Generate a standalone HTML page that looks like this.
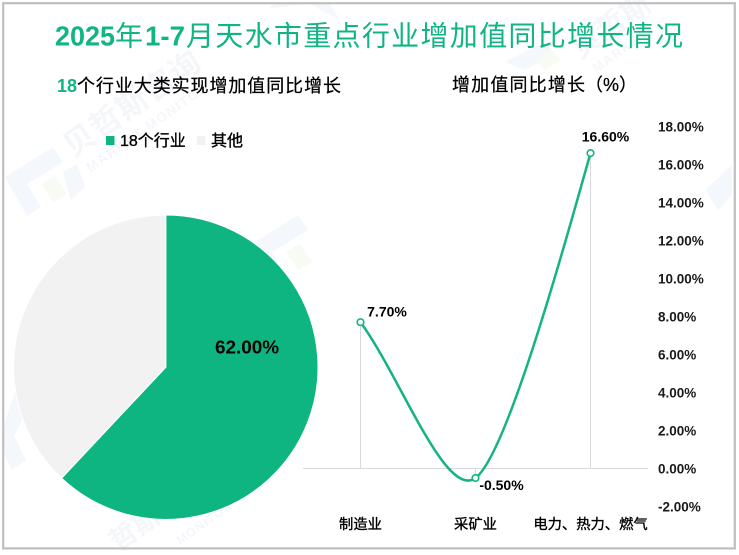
<!DOCTYPE html>
<html lang="zh-CN">
<head>
<meta charset="utf-8">
<title>2025年1-7月天水市重点行业增加值同比增长情况</title>
<style>
html,body{margin:0;padding:0;background:#fff;width:739px;height:555px;overflow:hidden}
svg{display:block;font-family:"Liberation Sans","Noto Sans CJK SC",sans-serif}
</style>
</head>
<body>
<svg id="chart" width="739" height="555" viewBox="0 0 739 555" xmlns="http://www.w3.org/2000/svg">
  <rect x="0" y="0" width="739" height="555" fill="#fff"/>
  <g id="watermarks">
    <g transform="translate(5,142)">
      <polygon points="0,35 48,5 58,20 22,42 36,65 22,74" fill="#f4f7fb"/>
      <polygon points="36,42 50,34 62,52 48,60" fill="#f8fbf3"/>
      <polygon points="58,30 72,22 80,45 66,58" fill="#f4f7fb"/>
    </g>
    <g transform="translate(73,158) rotate(-35)">
      <text x="0" y="0" font-size="31" font-weight="700" fill="#f4f6fa" letter-spacing="1">贝哲斯咨询</text>
      <text x="6" y="22" font-size="13.5" font-weight="700" fill="#f4f6fa" letter-spacing="1.5">MARKET MONITOR</text>
    </g>
    <g transform="translate(250,210)">
      <polygon points="0,35 48,5 58,20 22,42 36,65 22,74" fill="#f4f7fb"/>
      <polygon points="36,42 50,34 62,52 48,60" fill="#f8fbf3"/>
    </g>
    <g transform="translate(505,42)">
      <polygon points="0,20 40,0 50,12 20,28" fill="#f4f7fb"/>
      <polygon points="30,18 46,8 56,18 40,28" fill="#f8fbf3"/>
    </g>
    <g transform="translate(580,60) rotate(-35)">
      <text x="0" y="0" font-size="30" font-weight="700" fill="#f4f6fa">贝哲斯</text>
      <text x="6" y="20" font-size="13" font-weight="700" fill="#f4f6fa" letter-spacing="1.5">MARKET</text>
    </g>
    <polygon points="270,8 310,4 340,20 330,4 275,2" fill="#f4f7fb"/>
    <polygon points="2,430 15,392 26,412 14,436 26,460 12,470 2,450" fill="#f4f7fb"/>
    <polygon points="705,190 732,165 732,195 718,210" fill="#f4f7fb"/>
    <text transform="translate(118,552) rotate(-35)" font-size="27" font-weight="700" fill="#f4f6fa">哲斯</text>
    <text transform="translate(180,545) rotate(-35)" font-size="12.5" font-weight="700" fill="#f4f6fa" letter-spacing="1">MONITOR</text>
  </g>
  <rect x="3.2" y="3.2" width="731.6" height="545.2" fill="none" stroke="#bfbfbf" stroke-width="2.2"/>

  <g id="title" font-size="28" fill="#10b583">
    <text x="55" y="45.5" font-weight="700" textLength="60" lengthAdjust="spacingAndGlyphs">2025</text>
    <text x="115" y="45.5">年</text>
    <text x="145" y="45.5" font-weight="700" textLength="40" lengthAdjust="spacingAndGlyphs">1-7</text>
    <text x="186" y="45.5" textLength="497">月天水市重点行业增加值同比增长情况</text>
  </g>

  <g id="left-heading" font-size="18">
    <text x="57" y="92" font-weight="700" fill="#10b583" textLength="20" lengthAdjust="spacingAndGlyphs">18</text>
    <text x="77" y="92" fill="#000" stroke="#000" stroke-width="0.25" textLength="264">个行业大类实现增加值同比增长</text>
  </g>
  <g font-size="18" fill="#000" stroke="#000" stroke-width="0.25">
    <text x="452" y="91" textLength="133">增加值同比增长</text>
    <text x="585" y="91">（%）</text>
  </g>

  <g id="pie"></g>
  <g id="legend"></g>
  <g id="line"></g>
</svg>
<script>
const pieCategories = ['18个行业', '其他'];
const pieValues = [62, 38];
const pieLabels = ['62.00%', ''];
const lineCategories = ['制造业', '采矿业', '电力、热力、燃气'];
const lineValues = [7.7, -0.5, 16.6];
const lineValueLabels = ['7.70%', '-0.50%', '16.60%'];
const labelPlacements = ['right', 'below-right', 'above'];
const axisTicks = [18, 16, 14, 12, 10, 8, 6, 4, 2, 0, -2];

const NS = 'http://www.w3.org/2000/svg';
const GREEN = '#0fb580';
const GREY = '#f2f2f2';

function make(tag, attrs, parent, text) {
  const el = document.createElementNS(NS, tag);
  for (const k in attrs) el.setAttribute(k, attrs[k]);
  if (text !== undefined) el.textContent = text;
  parent.appendChild(el);
  return el;
}

/* ---------- pie ---------- */
const pieGroup = document.getElementById('pie');
const cx = 165.8, cy = 367.2, r = 152.2;
const pieColors = [GREEN, GREY];
const pieTotal = pieValues.reduce(function (a, b) { return a + b; }, 0);
function polar(frac, radius) {
  const a = frac * 2 * Math.PI - Math.PI / 2;
  return [cx + radius * Math.cos(a), cy + radius * Math.sin(a)];
}
let acc = 0;
pieValues.forEach(function (v, i) {
  const f0 = acc / pieTotal;
  const f1 = (acc + v) / pieTotal;
  acc += v;
  const p0 = polar(f0, r);
  const p1 = polar(f1, r);
  const large = (f1 - f0) > 0.5 ? 1 : 0;
  const d = 'M' + cx + ' ' + cy + 'L' + p0[0] + ' ' + p0[1] + 'A' + r + ' ' + r + ' 0 ' + large + ' 1 ' + p1[0] + ' ' + p1[1] + 'Z';
  const slice = make('path', { d: d, fill: pieColors[i], stroke: '#fff', 'stroke-width': 1 }, pieGroup);
  
  
  if (pieLabels[i]) {
    const mid = polar((f0 + f1) / 2 - 0.099, r * 0.55);
    const lab = make('text', { x: mid[0], y: mid[1] + 6.5, 'font-size': 18.9, 'font-weight': 700, fill: '#000', 'text-anchor': 'middle' }, pieGroup, pieLabels[i]);
    
    
  }
});

/* ---------- legend ---------- */
const legendGroup = document.getElementById('legend');
const legendLayout = [{ sw: 106, tx: 120 }, { sw: 197, tx: 211 }];
pieCategories.forEach(function (c, i) {
  const sw = make('rect', { x: legendLayout[i].sw, y: 136, width: 8.5, height: 9, fill: pieColors[i] }, legendGroup);
  
  
  const t = make('text', { x: legendLayout[i].tx, y: 146, 'font-size': 16, fill: '#000', stroke: '#000', 'stroke-width': 0.35 }, legendGroup, c);
  
  
});

/* ---------- line chart ---------- */
const lineGroup = document.getElementById('line');
const plotLeft = 303, plotRight = 648;
const y0 = 468.5, pxPerUnit = 19;
function yScale(v) { return y0 - v * pxPerUnit; }
function xScale(i) { return plotLeft + (plotRight - plotLeft) * (i + 0.5) / lineCategories.length; }

axisTicks.forEach(function (t) {
  const lab = make('text', { x: 658, y: yScale(t) + 5, 'font-size': 13.5, 'font-weight': 700, fill: '#1a1a1a' }, lineGroup, t.toFixed(2) + '%');
  
  
});

const axis = make('line', { x1: plotLeft, x2: plotRight, y1: yScale(0), y2: yScale(0), stroke: '#d9d9d9', 'stroke-width': 1 }, lineGroup);



lineValues.forEach(function (v, i) {
  const drop = make('line', { x1: xScale(i), x2: xScale(i), y1: yScale(v), y2: yScale(0), stroke: '#d9d9d9', 'stroke-width': 1 }, lineGroup);
  
  
});

const pts = lineValues.map(function (v, i) { return [xScale(i), yScale(v)]; });
function tangent(i) {
  const a = pts[Math.max(i - 1, 0)];
  const b = pts[Math.min(i + 1, pts.length - 1)];
  return [(b[0] - a[0]) * 0.13, (b[1] - a[1]) * 0.13];
}
let d = 'M' + pts[0][0] + ' ' + pts[0][1];
for (let i = 0; i < pts.length - 1; i++) {
  const p = pts[i], q = pts[i + 1];
  const chord = [q[0] - p[0], q[1] - p[1]];
  const mp = tangent(i), mq = tangent(i + 1);
  let c1, c2;
  if (i === 0) c1 = [p[0] + chord[0] * 0.34, p[1] + chord[1] * 0.34];
  else c1 = [p[0] + mp[0], p[1] + mp[1]];
  if (i === pts.length - 2) {
    const inner = tangent(i);
    c2 = [q[0] - (chord[0] - inner[0]) * 0.37, q[1] - (chord[1] - inner[1]) * 0.37];
  } else c2 = [q[0] - mq[0], q[1] - mq[1]];
  d += 'C' + c1[0] + ' ' + c1[1] + ' ' + c2[0] + ' ' + c2[1] + ' ' + q[0] + ' ' + q[1];
}
const series = make('path', { d: d, fill: 'none', stroke: '#14b383', 'stroke-width': 2.5, 'stroke-linecap': 'round' }, lineGroup);



const labelOffsets = {
  'right': { dx: 26.5, dy: -5.5 },
  'below-right': { dx: 26, dy: 12 },
  'above': { dx: 15, dy: -11.5 }
};
lineValues.forEach(function (v, i) {
  const m = make('circle', { cx: xScale(i), cy: yScale(v), r: 3.3, fill: '#fff', stroke: '#14b383', 'stroke-width': 1.6 }, lineGroup);
  
  
  const off = labelOffsets[labelPlacements[i]];
  const lab = make('text', { x: xScale(i) + off.dx, y: yScale(v) + off.dy, 'font-size': 14, 'font-weight': 700, fill: '#000', 'text-anchor': 'middle' }, lineGroup, lineValueLabels[i]);
  
  
  const cat = make('text', { x: xScale(i), y: 529, 'font-size': 14.3, fill: '#000', stroke: '#000', 'stroke-width': 0.35, 'text-anchor': 'middle' }, lineGroup, lineCategories[i]);
  
  
});
</script>
</body>
</html>
